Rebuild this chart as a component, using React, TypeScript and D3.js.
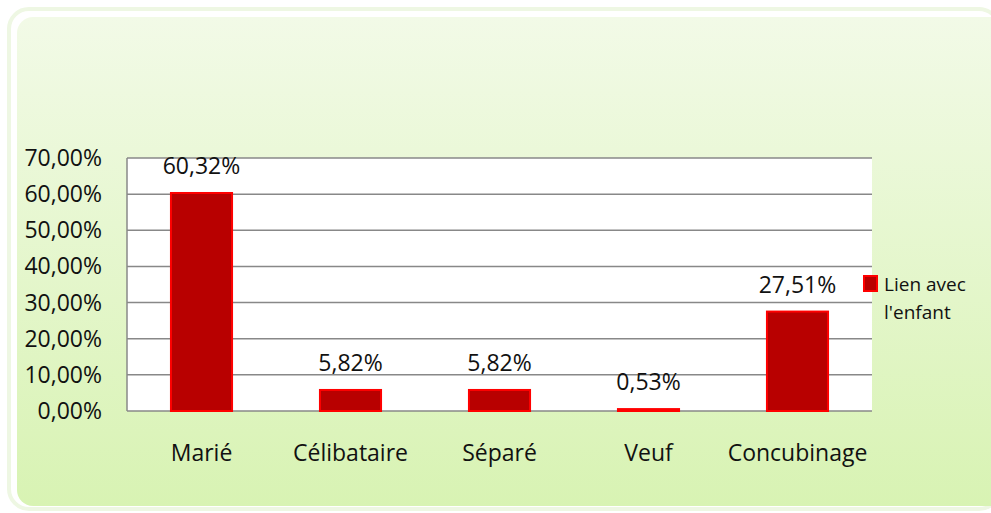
import { useMemo } from 'react';
import * as d3 from 'd3';

const categories = ['Marié', 'Célibataire', 'Séparé', 'Veuf', 'Concubinage'];
const values = [60.32, 5.82, 5.82, 0.53, 27.51];
const valueLabels = ['60,32%', '5,82%', '5,82%', '0,53%', '27,51%'];
const yTicks = [0, 10, 20, 30, 40, 50, 60, 70];
const legendLines = ['Lien avec', "l'enfant"];

const W = 991;
const H = 513;
const FONT = '"Open Sans", Lato, sans-serif';

export default function App() {
  const plot = { left: 127, right: 872, top: 158, bottom: 411 };

  const x = useMemo(
    () => d3.scaleBand<string>().domain(categories).range([plot.left, plot.right]).paddingInner(0.59).paddingOuter(0.295),
    []
  );
  const y = useMemo(() => d3.scaleLinear().domain([0, 70]).range([plot.bottom, plot.top]), []);

  const fmtTick = (v: number) => d3.format('.2f')(v).replace('.', ',') + '%';

  return (
    <svg width={W} height={H} style={{ position: 'absolute', left: 0, top: 0 }}>
      <defs>
        <linearGradient id="bg" x1="0" y1="0" x2="0" y2="1">
          <stop offset="0%" stopColor="#f2fae7" />
          <stop offset="100%" stopColor="#d8f3b3" />
        </linearGradient>
      </defs>
      <rect x={0} y={0} width={W} height={H} fill="#ffffff" />
      {/* outer frame */}
      <rect x={9} y={9} width={990} height={500} rx={20} fill="none" stroke="#eef7e3" strokeWidth={4} />
      {/* inner panel */}
      <rect x={17} y={17} width={990} height={489} rx={16} fill="url(#bg)" />

      {/* plot area */}
      <rect x={plot.left} y={plot.top} width={plot.right - plot.left} height={plot.bottom - plot.top} fill="#ffffff" />
      {yTicks.map((t) => (
        <line key={t} x1={plot.left} x2={plot.right} y1={y(t)} y2={y(t)} stroke="#888888" strokeWidth={1.5} />
      ))}
      <line x1={plot.left} x2={plot.left} y1={plot.top} y2={plot.bottom} stroke="#888888" strokeWidth={1.5} />

      {/* y labels */}
      {yTicks.map((t) => (
        <text key={t} x={102} y={y(t) + 8} textAnchor="end" fontFamily={FONT} fontSize={23} fill="#111">
          {fmtTick(t)}
        </text>
      ))}

      {/* bars */}
      {categories.map((c, i) => (
        <g key={c}>
          <rect
            x={x(c)}
            y={y(values[i])}
            width={x.bandwidth()}
            height={y(0) - y(values[i])}
            fill="#b80000"
            stroke="#ff0000"
            strokeWidth={2}
          />
          <text
            x={(x(c) ?? 0) + x.bandwidth() / 2}
            y={y(values[i]) - 19}
            textAnchor="middle"
            fontFamily={FONT}
            fontSize={23}
            fill="#111"
          >
            {valueLabels[i]}
          </text>
          <text
            x={(x(c) ?? 0) + x.bandwidth() / 2}
            y={461}
            textAnchor="middle"
            fontFamily={FONT}
            fontSize={23}
            fill="#111"
          >
            {c}
          </text>
        </g>
      ))}

      {/* legend */}
      <rect x={864} y={276} width={13} height={15} fill="#b80000" stroke="#ff0000" strokeWidth={2} />
      {legendLines.map((l, i) => (
        <text key={l} x={884} y={291 + i * 28} fontFamily={FONT} fontSize={19} fill="#111">
          {l}
        </text>
      ))}
    </svg>
  );
}
